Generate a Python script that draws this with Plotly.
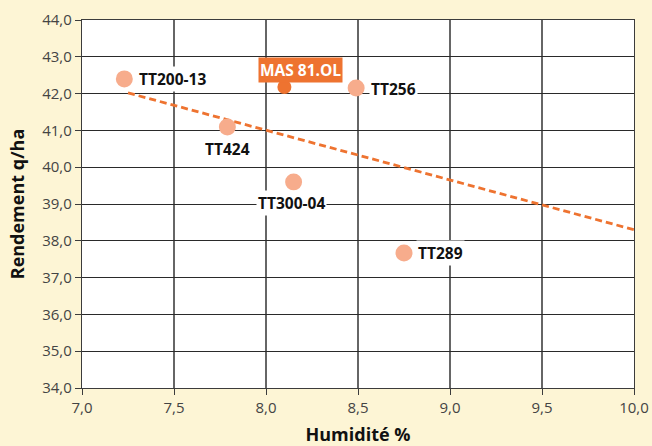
import plotly.graph_objects as go

names = ["TT200-13", "TT424", "TT300-04", "TT256", "TT289"]
humidite = [7.23, 7.79, 8.15, 8.49, 8.75]
rendement = [42.40, 41.09, 39.60, 42.15, 37.67]

ref_name = "MAS 81.OL"
ref_humidite = [8.10]
ref_rendement = [42.18]

trend_x = [7.25, 10.0]
trend_y = [42.02, 38.30]

x_ticks = [7.0, 7.5, 8.0, 8.5, 9.0, 9.5, 10.0]
y_ticks = [34, 35, 36, 37, 38, 39, 40, 41, 42, 43, 44]

ORANGE = "#EE7330"
SALMON = "#F7AC8C"
GRID = "#3c3c3c"

fig = go.Figure()
fig.add_trace(go.Scatter(x=trend_x, y=trend_y, mode="lines",
                         line=dict(color=ORANGE, width=2.8, dash="7px,4px"),
                         hoverinfo="skip", showlegend=False))
fig.add_trace(go.Scatter(x=humidite, y=rendement, mode="markers",
                         marker=dict(color=SALMON, size=17),
                         showlegend=False))
fig.add_trace(go.Scatter(x=ref_humidite, y=ref_rendement, mode="markers",
                         marker=dict(color=ORANGE, size=14),
                         showlegend=False))

lab_font = dict(family="Open Sans", size=15.5, color="#111111")
placement = {
    "TT200-13": ("left", 13, 0),
    "TT424": ("center", 0, -22),
    "TT300-04": ("center", -2, -21),
    "TT256": ("left", 13, -1),
    "TT289": ("left", 12, 0),
}
for n, xv, yv in zip(names, humidite, rendement):
    xa, xs, ys = placement[n]
    fig.add_annotation(x=xv, y=yv, text="<b>%s</b>" % n, showarrow=False,
                       xanchor=xa, yanchor="middle", xshift=xs, yshift=ys,
                       font=lab_font, bgcolor="white", borderpad=1)

fig.add_annotation(x=ref_humidite[0], y=ref_rendement[0], text="<b>%s</b>" % ref_name,
                   showarrow=False, xanchor="center", yanchor="middle",
                   xshift=16, yshift=17,
                   font=dict(family="Open Sans", size=15.5, color="white"),
                   bgcolor=ORANGE, borderpad=1)

axis_common = dict(showline=True, linecolor=GRID, linewidth=1.3, mirror=True,
                   ticks="outside", ticklen=6, tickcolor=GRID, tickwidth=1.3,
                   tickfont=dict(family="Open Sans", size=15, color="#444444"),
                   zeroline=False, tickformat=".1f", automargin=False)

fig.update_xaxes(range=[7.0, 10.0], tickvals=x_ticks,
                 showgrid=True, gridcolor="#666666", gridwidth=1.6,
                 title=dict(text="<b>Humidité %</b>", standoff=25,
                            font=dict(family="Open Sans", size=18, color="#111111")),
                 **axis_common)
fig.update_yaxes(range=[34, 44], tickvals=y_ticks,
                 showgrid=True, gridcolor="#2a2a2a", gridwidth=1.1,
                 title=dict(text="<b>Rendement q/ha</b>", standoff=12,
                            font=dict(family="Open Sans", size=18, color="#111111")),
                 **axis_common)

fig.update_layout(width=652, height=446,
                  margin=dict(l=82, r=18, t=20, b=58),
                  paper_bgcolor="#FDF5D5", plot_bgcolor="white",
                  separators=", ", showlegend=False)

fig.write_html("out.html", config={"displayModeBar": False},
               post_script="document.body.style.margin='0px';document.body.style.overflow='hidden';")
